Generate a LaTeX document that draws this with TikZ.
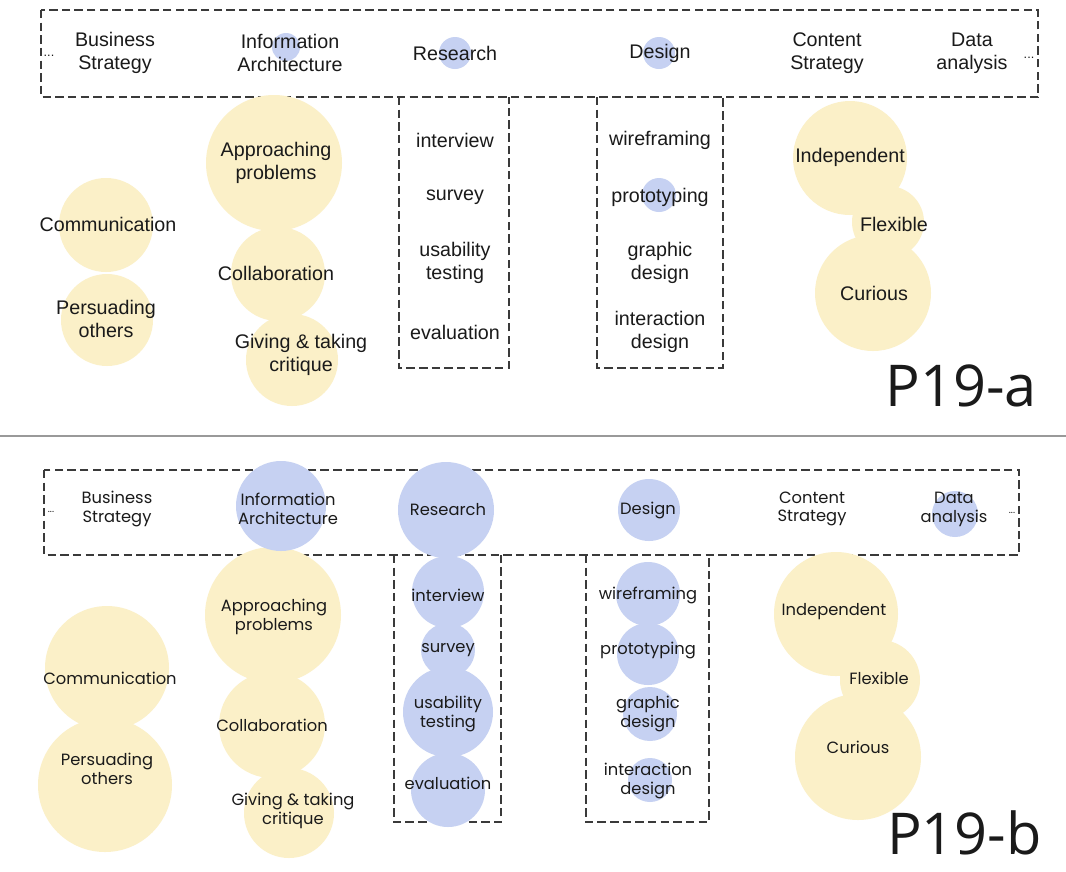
\documentclass[tikz,border=0pt]{standalone}
\usepackage{fontspec}
\usepackage{xcolor}
\usetikzlibrary{positioning}
\newfontfamily\arialfont{Liberation Sans}
\newfontfamily\popfont{Poppins}
\newfontfamily\tagfont{Open Sans}
\definecolor{bubyellow}{HTML}{FBF0C8}
\definecolor{bubblue}{HTML}{C6D1F2}
\definecolor{framegray}{HTML}{3A3A3A}
\definecolor{inkblack}{HTML}{1A1A1A}

\begin{document}
\begin{tikzpicture}[x=0.025cm, y=-0.025cm,
  frame/.style={draw=framegray, line width=0.8pt, dash pattern=on 6pt off 3pt},
  ybub/.style={fill=bubyellow},
  bbub/.style={fill=bubblue},
  alabel/.style={align=center, inner sep=0pt, text=inkblack, font=\arialfont\fontsize{14}{16.4}\selectfont},
  blabel/.style={align=center, inner sep=0pt, text=inkblack, font=\popfont\fontsize{11.6}{13.4}\selectfont},
  tag/.style={anchor=base east, inner sep=0pt, text depth=0pt, text=inkblack, font=\tagfont\fontsize{41}{45}\selectfont}
]
  \useasboundingbox (0,0) rectangle (1066,871);
  \fill[white] (0,0) rectangle (1066,871);

  % Frames (P19-a)
  \draw[frame] (41,10) rectangle (1038,97);
  \draw[frame] (399,97) -- (399,368) -- (509,368) -- (509,97);
  \draw[frame] (597,97) -- (597,368) -- (723,368) -- (723,97);

  % Frames (P19-b)
  \draw[frame] (44,470) rectangle (1019,555);
  \draw[frame] (394,555) -- (394,822) -- (501,822) -- (501,555);
  \draw[frame] (586,555) -- (586,822) -- (709,822) -- (709,555);

  % Separator
  \draw[color=gray!80, line width=1pt] (0,436) -- (1066,436);

  % Bubbles (P19-a)
  \fill[ybub] (274,163) circle (68);
  \fill[ybub] (106,225) circle (47);
  \fill[ybub] (107,320) circle (46);
  \fill[ybub] (278,274) circle (47);
  \fill[ybub] (292,360) circle (46);
  \fill[ybub] (850,158) circle (57);
  \fill[ybub] (888,222) circle (36);
  \fill[ybub] (873,293) circle (58);
  \fill[bbub] (286,47) circle (14);
  \fill[bbub] (455,53) circle (16);
  \fill[bbub] (659,53) circle (16);
  \fill[bbub] (659,195) circle (17);

  % Bubbles (P19-b)
  \fill[ybub] (273,615) circle (68);
  \fill[ybub] (107,668) circle (62);
  \fill[ybub] (105,785) circle (67);
  \fill[ybub] (272,725) circle (53);
  \fill[ybub] (289,813) circle (45);
  \fill[ybub] (836,614) circle (62);
  \fill[ybub] (880,680) circle (40);
  \fill[ybub] (858,757) circle (63);
  \fill[bbub] (281,506) circle (45);
  \fill[bbub] (446,510) circle (48);
  \fill[bbub] (649,510) circle (31);
  \fill[bbub] (955,514) circle (23);
  \fill[bbub] (448,592) circle (36);
  \fill[bbub] (448,650) circle (27);
  \fill[bbub] (448,712) circle (45);
  \fill[bbub] (448,790) circle (37);
  \fill[bbub] (648,594) circle (32);
  \fill[bbub] (648,654) circle (31);
  \fill[bbub] (650,714) circle (27);
  \fill[bbub] (650,780) circle (22);

  % Disciplines (P19-a)
  \node[alabel] (adotsl) at (49,56) {\fontsize{9}{9}\selectfont...};
  \node[alabel] (abiz) at (115,53) {Business\\Strategy};
  \node[alabel] (ainfo) at (290,53) {Information\\Architecture};
  \node[alabel] (ares) at (455,53) {Research};
  \node[alabel] (ades) at (660,53) {Design};
  \node[alabel] (acont) at (827,53) {Content\\Strategy};
  \node[alabel] (adata) at (972,53) {Data\\analysis};
  \node[alabel] (adotsr) at (1029,58) {\fontsize{9}{9}\selectfont...};

  % Methods (P19-a)
  \node[alabel] (aint) at (455,140) {interview};
  \node[alabel] (asur) at (455,197) {survey};
  \node[alabel] (ausa) at (455,263) {usability\\testing};
  \node[alabel] (aeva) at (455,332) {evaluation};
  \node[alabel] (awir) at (660,140) {wireframing};
  \node[alabel] (apro) at (660,197) {prototyping};
  \node[alabel] (agra) at (660,263) {graphic\\design};
  \node[alabel] (aixd) at (660,332) {interaction\\design};

  % Soft skills (P19-a)
  \node[alabel] (aappr) at (276,163) {Approaching\\problems};
  \node[alabel] (acomm) at (108,224) {Communication};
  \node[alabel] (apers) at (106,319) {Persuading\\others};
  \node[alabel] (acoll) at (276,273) {Collaboration};
  \node[alabel] (agive) at (301,355) {Giving \& taking\\critique};
  \node[alabel] (aindep) at (850,157) {Independent};
  \node[alabel] (aflex) at (894,224) {Flexible};
  \node[alabel] (acur) at (874,293) {Curious};
  \node[tag] (taga) at (1037,406) {P19-a};

  % Disciplines (P19-b)
  \node[blabel] (bdotsl) at (51,512) {\fontsize{7}{7}\selectfont...};
  \node[blabel] (bbiz) at (117,509) {Business\\Strategy};
  \node[blabel] (binfo) at (288,509) {Information\\Architecture};
  \node[blabel] (bres) at (448,510) {Research};
  \node[blabel] (bdes) at (648,510) {Design};
  \node[blabel] (bcont) at (812,509) {Content\\Strategy};
  \node[blabel] (bdata) at (954,509) {Data\\analysis};
  \node[blabel] (bdotsr) at (1012,513) {\fontsize{7}{7}\selectfont...};

  % Methods (P19-b)
  \node[blabel] (bint) at (448,595) {interview};
  \node[blabel] (bsur) at (448,650) {survey};
  \node[blabel] (busa) at (448,714) {usability\\testing};
  \node[blabel] (beva) at (448,783) {evaluation};
  \node[blabel] (bwir) at (648,595) {wireframing};
  \node[blabel] (bpro) at (648,650) {prototyping};
  \node[blabel] (bgra) at (648,714) {graphic\\design};
  \node[blabel] (bixd) at (648,781) {interaction\\design};

  % Soft skills (P19-b)
  \node[blabel] (bappr) at (274,617) {Approaching\\problems};
  \node[blabel] (bcomm) at (110,678) {Communication};
  \node[blabel] (bpers) at (107,769) {Persuading\\others};
  \node[blabel] (bcoll) at (272,725) {Collaboration};
  \node[blabel] (bgive) at (293,811) {Giving \& taking\\critique};
  \node[blabel] (bindep) at (834,612) {Independent};
  \node[blabel] (bflex) at (879,678) {Flexible};
  \node[blabel] (bcur) at (858,747) {Curious};
  \node[tag] (tagb) at (1042,854) {P19-b};
\end{tikzpicture}
\end{document}
